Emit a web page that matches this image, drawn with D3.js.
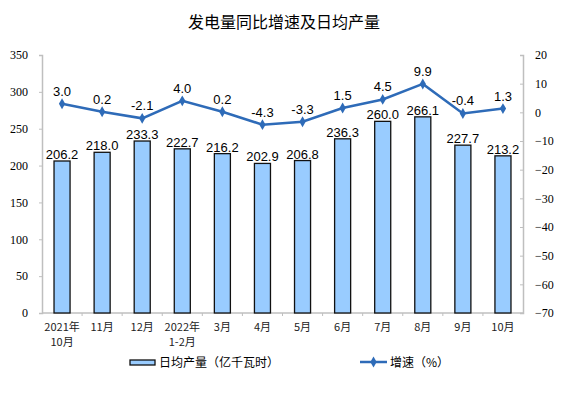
<!DOCTYPE html>
<html>
<head>
<meta charset="utf-8">
<script src="https://cdn.jsdelivr.net/npm/d3@7"></script>
<style>
  body { margin: 0; background: #fff; }
  svg { display: block; }
</style>
</head>
<body>
<svg id="chart" width="575" height="397"></svg>
<script>
(function () {
  "use strict";

  const months = [["2021年", "10月"], ["11月"], ["12月"], ["2022年", "1-2月"], ["3月"], ["4月"],
    ["5月"], ["6月"], ["7月"], ["8月"], ["9月"], ["10月"]];
  const dailyOutput = [206.2, 218.0, 233.3, 222.7, 216.2, 202.9, 206.8, 236.3, 260.0, 266.1, 227.7, 213.2];
  const growth = [3.0, 0.2, -2.1, 4.0, 0.2, -4.3, -3.3, 1.5, 4.5, 9.9, -0.4, 1.3];
  const leftTicks = [0, 50, 100, 150, 200, 250, 300, 350];
  const rightTicks = [-70, -60, -50, -40, -30, -20, -10, 0, 10, 20];

  const svg = d3.select("#chart");
  const left = 42, right = 523, top = 55, bottom = 313;
  const lineColor = "#2e6bb8";
  const cjk = "'Noto Sans CJK SC', 'Noto Sans', sans-serif";

  const keys = months.map((m, i) => i);
  const x = d3.scaleBand().domain(keys).range([left, right]).paddingInner(0.6).paddingOuter(0.3);
  const yL = d3.scaleLinear().domain([0, 350]).range([bottom, top]);
  const yR = d3.scaleLinear().domain([-70, 20]).range([bottom, top]);
  const cx = (i) => x(i) + x.bandwidth() / 2;

  svg.append("text")
    .attr("x", 284).attr("y", 28)
    .attr("text-anchor", "middle")
    .style("font-family", cjk).style("font-size", "16px").style("fill", "#000")
    .text("发电量同比增速及日均产量");

  // axes
  const axisL = svg.append("g").attr("transform", `translate(${left},0)`)
    .call(d3.axisLeft(yL).tickValues(leftTicks).tickSize(3).tickPadding(11));
  const axisR = svg.append("g").attr("transform", `translate(${right},0)`)
    .call(d3.axisRight(yR).tickValues(rightTicks).tickSize(-3).tickPadding(12));
  [axisL, axisR].forEach((g) => {
    g.select(".domain").attr("stroke", "#bfbfbf").attr("stroke-width", 1.5);
    g.selectAll(".tick line").attr("stroke", "#bfbfbf");
    g.selectAll(".tick text")
      .style("font-family", "'Liberation Serif', 'Times New Roman', serif")
      .style("font-size", "12px").style("fill", "#000");
  });

  // x axis baseline and boundary ticks
  const xAxis = svg.append("g");
  xAxis.append("line")
    .attr("x1", left).attr("x2", right).attr("y1", bottom).attr("y2", bottom)
    .attr("stroke", "#bfbfbf").attr("stroke-width", 1.5);
  xAxis.selectAll("line.bound").data(keys.slice(1)).enter().append("line")
    .attr("class", "bound")
    .attr("x1", (i) => cx(i) - x.step() / 2).attr("x2", (i) => cx(i) - x.step() / 2)
    .attr("y1", bottom).attr("y2", bottom + 3)
    .attr("stroke", "#bfbfbf");

  const xl = xAxis.selectAll("text.xl").data(months).enter().append("text")
    .attr("class", "xl")
    .attr("x", (m, i) => cx(i)).attr("y", 331)
    .attr("text-anchor", "middle")
    .style("font-family", cjk).style("font-size", "11px").style("fill", "#222");
  xl.selectAll("tspan").data((m) => m).enter().append("tspan")
    .attr("x", function () { return this.parentNode.getAttribute("x"); })
    .attr("dy", (d, j) => (j === 0 ? 0 : 15))
    .text((d) => d);

  // bars
  svg.append("g").selectAll("rect").data(dailyOutput).enter().append("rect")
    .attr("x", (d, i) => x(i))
    .attr("y", (d) => yL(d))
    .attr("width", x.bandwidth())
    .attr("height", (d) => yL(0) - yL(d))
    .attr("fill", "#99ccff").attr("stroke", "#111").attr("stroke-width", 1.3);

  svg.append("g").selectAll("text").data(dailyOutput).enter().append("text")
    .attr("x", (d, i) => cx(i)).attr("y", (d) => yL(d) - 2)
    .attr("text-anchor", "middle")
    .style("font-family", "'Liberation Sans', Arial, sans-serif").style("font-size", "13px")
    .text((d) => d.toFixed(1));

  // growth line
  const line = d3.line().x((d, i) => cx(i)).y((d) => yR(d));
  svg.append("path").datum(growth)
    .attr("d", line).attr("fill", "none")
    .attr("stroke", lineColor).attr("stroke-width", 2.5);

  const diamond = d3.symbol().type(d3.symbolDiamond).size(34);
  svg.append("g").selectAll("path").data(growth).enter().append("path")
    .attr("d", diamond)
    .attr("transform", (d, i) => `translate(${cx(i)},${yR(d)})`)
    .attr("fill", lineColor);

  svg.append("g").selectAll("text").data(growth).enter().append("text")
    .attr("x", (d, i) => cx(i)).attr("y", (d) => yR(d) - 8)
    .attr("text-anchor", "middle")
    .style("font-family", "'Liberation Sans', Arial, sans-serif").style("font-size", "13px")
    .text((d) => d.toFixed(1));

  // legend
  const legend = svg.append("g").style("font-family", cjk).style("font-size", "12px");
  legend.append("rect")
    .attr("x", 130).attr("y", 360).attr("width", 25).attr("height", 5)
    .attr("fill", "#99ccff").attr("stroke", "#111").attr("stroke-width", 1.3);
  legend.append("text").attr("x", 159).attr("y", 367).text("日均产量（亿千瓦时）");
  legend.append("line")
    .attr("x1", 360).attr("x2", 387).attr("y1", 362).attr("y2", 362)
    .attr("stroke", lineColor).attr("stroke-width", 2.5);
  legend.append("path").attr("d", diamond).attr("transform", "translate(373.5,362)").attr("fill", lineColor);
  legend.append("text").attr("x", 390).attr("y", 367).text("增速（%）");
})();
</script>
</body>
</html>
